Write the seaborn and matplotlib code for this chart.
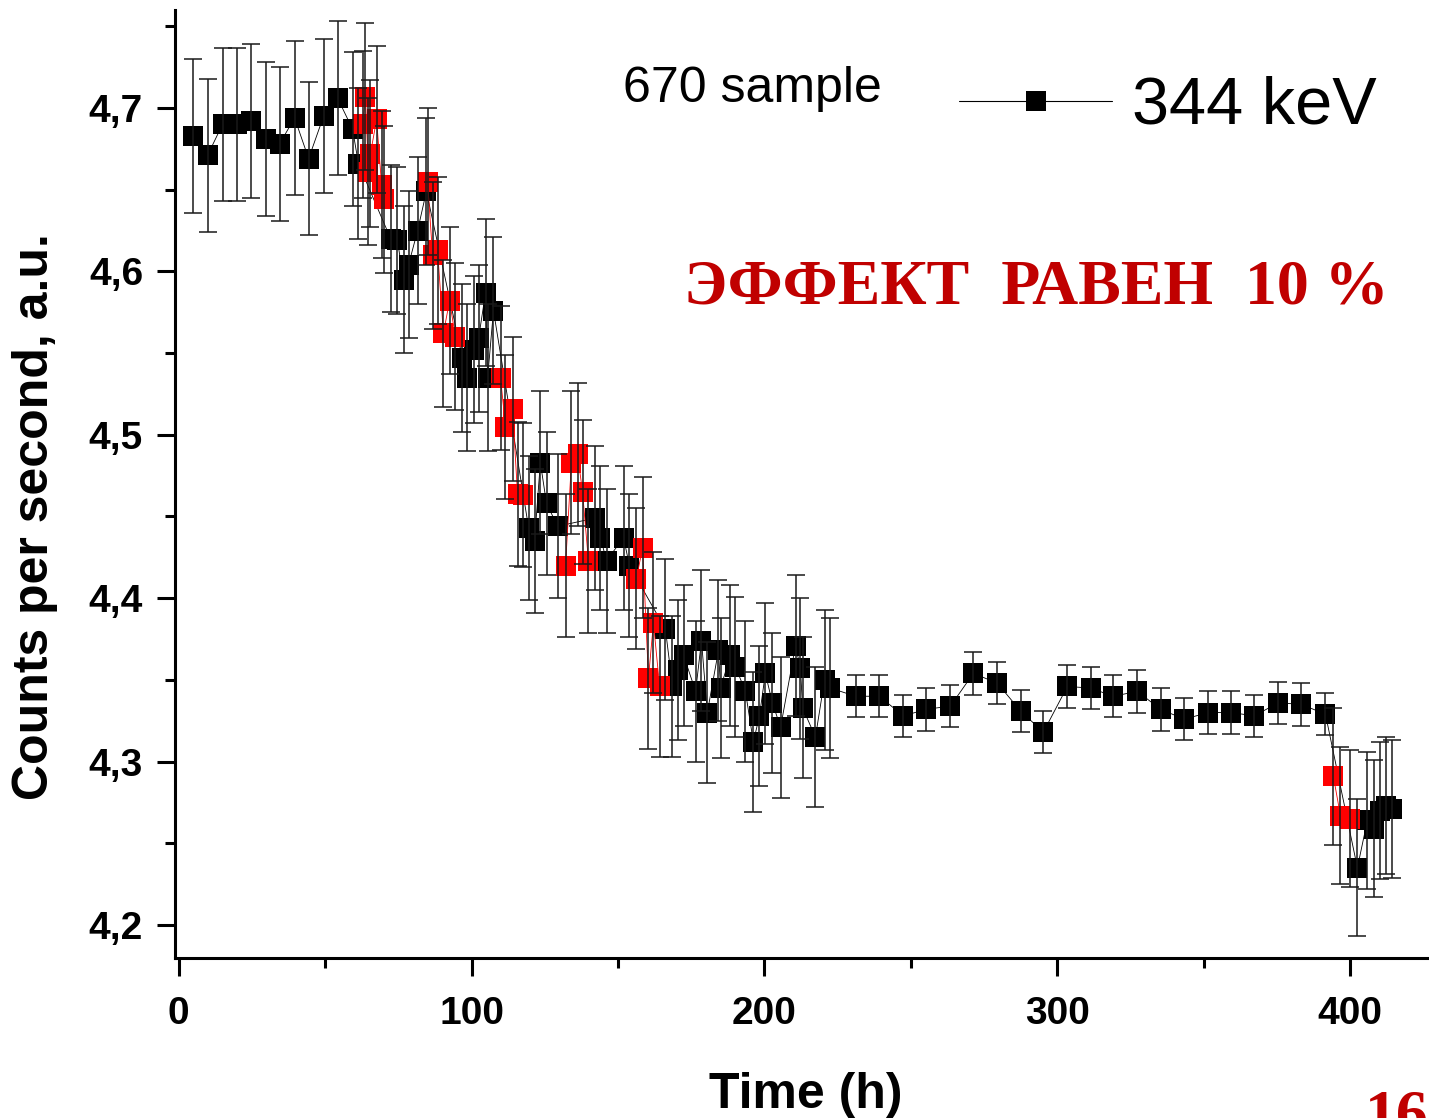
import pandas as pd
import seaborn as sns
import matplotlib.pyplot as plt
from matplotlib.lines import Line2D
from matplotlib.ticker import MultipleLocator, FuncFormatter

# black points (time, counts, error)
t_black = [4.8, 9.9, 15.0, 19.8, 24.6, 29.7, 34.5, 39.6, 44.4, 49.5, 54.3, 59.4, 61.4,
           72.4, 74.7, 76.8, 78.5, 81.6, 84.6, 96.9, 98.6, 100.7, 102.4, 104.8, 105.5, 107.5,
           119.5, 121.5, 123.5, 125.6, 129.4, 142.0, 144.0, 146.1, 151.9, 153.9,
           166.2, 168.6, 170.6, 172.4, 176.5, 178.5, 180.5, 184.3, 185.0, 188.4, 190.1,
           193.5, 196.2, 198.3, 200.3, 202.7, 205.5, 210.6, 212.3, 213.0, 217.4, 220.5, 222.5,
           231.1, 239.2, 247.4, 255.3, 263.5, 271.3, 279.5, 287.4, 295.2, 303.4, 311.3,
           319.1, 327.3, 335.2, 343.3, 351.5, 359.4, 367.2, 375.4, 383.3, 391.5,
           402.4, 405.8, 408.2, 410.2, 412.3, 414.3]
cps_black = [4.683, 4.671, 4.690, 4.690, 4.692, 4.681, 4.678, 4.694, 4.669, 4.695, 4.706, 4.687, 4.666,
             4.620, 4.619, 4.595, 4.604, 4.625, 4.649, 4.547, 4.535, 4.552, 4.559, 4.587, 4.535, 4.576,
             4.443, 4.435, 4.483, 4.458, 4.444, 4.449, 4.437, 4.423, 4.437, 4.420,
             4.381, 4.346, 4.356, 4.365, 4.343, 4.374, 4.330, 4.368, 4.345, 4.365, 4.358,
             4.343, 4.312, 4.328, 4.354, 4.336, 4.321, 4.371, 4.357, 4.333, 4.315, 4.350, 4.345,
             4.340, 4.340, 4.328, 4.332, 4.334, 4.354, 4.348, 4.331, 4.318, 4.346, 4.345,
             4.340, 4.343, 4.332, 4.326, 4.330, 4.330, 4.328, 4.336, 4.335, 4.329,
             4.235, 4.264, 4.259, 4.270, 4.273, 4.271]
err_black = [0.047, 0.047, 0.047, 0.047, 0.047, 0.047, 0.047, 0.047, 0.047, 0.047, 0.047, 0.047, 0.046,
             0.045, 0.045, 0.045, 0.045, 0.045, 0.045, 0.045, 0.045, 0.045, 0.045, 0.045, 0.045, 0.045,
             0.044, 0.044, 0.044, 0.044, 0.044, 0.044, 0.044, 0.044, 0.044, 0.044,
             0.043, 0.043, 0.043, 0.043, 0.043, 0.043, 0.043, 0.043, 0.043, 0.043, 0.043,
             0.043, 0.043, 0.043, 0.043, 0.043, 0.043, 0.043, 0.043, 0.043, 0.043, 0.043, 0.043,
             0.013, 0.013, 0.013, 0.013, 0.013, 0.013, 0.013, 0.013, 0.013, 0.013, 0.013,
             0.013, 0.013, 0.013, 0.013, 0.013, 0.013, 0.013, 0.013, 0.013, 0.013,
             0.042, 0.042, 0.042, 0.042, 0.042, 0.042]

# red points
t_red = [62.8, 63.8, 64.8, 65.5, 67.6, 69.3, 70.0,
         85.0, 86.7, 88.4, 90.4, 92.5, 94.5,
         109.9, 111.6, 114.0, 115.7, 117.7,
         132.1, 134.1, 136.2, 137.9, 139.9,
         156.3, 158.4, 160.4, 162.1, 164.2,
         394.2, 396.6, 400.0]
cps_red = [4.690, 4.707, 4.661, 4.672, 4.693, 4.653, 4.644,
           4.655, 4.610, 4.613, 4.562, 4.582, 4.560,
           4.535, 4.505, 4.516, 4.464, 4.463,
           4.420, 4.483, 4.488, 4.465, 4.423,
           4.412, 4.431, 4.351, 4.385, 4.346,
           4.291, 4.267, 4.265]
err_red = [0.045, 0.045, 0.045, 0.045, 0.045, 0.045, 0.045,
           0.045, 0.045, 0.045, 0.045, 0.045, 0.045,
           0.044, 0.044, 0.044, 0.044, 0.044,
           0.044, 0.044, 0.044, 0.044, 0.044,
           0.043, 0.043, 0.043, 0.043, 0.043,
           0.042, 0.042, 0.042]
run_red = [1, 1, 1, 1, 1, 1, 1, 2, 2, 2, 2, 2, 2, 3, 3, 3, 3, 3,
           4, 4, 4, 4, 4, 5, 5, 5, 5, 5, 6, 6, 6]

sns.set_style('ticks')
plt.rcParams['font.family'] = ['Liberation Sans', 'DejaVu Sans']
for key in ['text.color', 'axes.labelcolor', 'xtick.color', 'ytick.color', 'axes.edgecolor']:
    plt.rcParams[key] = 'black'

fig = plt.figure(figsize=(14.29, 11.18), dpi=100)
ax = fig.add_axes([0.1225, 0.1431, 0.877, 0.848])

dfb = pd.DataFrame({'t': t_black, 'cps': cps_black})
dfr = pd.DataFrame({'t': t_red, 'cps': cps_red, 'run': run_red})

sns.lineplot(data=dfb, x='t', y='cps', color='black', lw=0.6, marker='s',
             markersize=14.5, markeredgewidth=0, estimator=None, ax=ax, zorder=2)
sns.lineplot(data=dfr, x='t', y='cps', units='run', color='red', lw=0.6, marker='s',
             markersize=14.5, markeredgewidth=0, estimator=None, ax=ax, zorder=3)

# error bars on top
ax.errorbar(t_black, cps_black, yerr=err_black, fmt='none', ecolor='#1a1a1a',
            elinewidth=1.1, capsize=6.5, capthick=1.1, zorder=4)
ax.errorbar(t_red, cps_red, yerr=err_red, fmt='none', ecolor='#1a1a1a',
            elinewidth=1.1, capsize=6.5, capthick=1.1, zorder=4)

ax.set_xlim(-1.2, 426.6)
ax.set_ylim(4.1798, 4.760)
ax.xaxis.set_major_locator(MultipleLocator(100))
ax.xaxis.set_minor_locator(MultipleLocator(50))
ax.yaxis.set_major_locator(MultipleLocator(0.1))
ax.yaxis.set_minor_locator(MultipleLocator(0.05))
ax.yaxis.set_major_formatter(FuncFormatter(lambda v, p: f'{v:.1f}'.replace('.', ',')))

sns.despine(ax=ax)
for s in ['left', 'bottom']:
    ax.spines[s].set_linewidth(2.2)
ax.tick_params(which='major', length=13, width=2.2, labelsize=28)
ax.tick_params(which='minor', length=7, width=2.2)
ax.tick_params(axis='x', which='major', pad=14)
ax.tick_params(axis='y', which='major', pad=10)
for lab in ax.get_xticklabels() + ax.get_yticklabels():
    lab.set_fontweight('bold')
ax.set_xlabel('')
ax.set_ylabel('')

fig.text(35 / 1429, 1 - 517 / 1118, 'Counts per second, a.u.', rotation=90,
         ha='center', va='center', fontsize=36, fontweight='bold')
fig.text(806 / 1429, 1 - 1108 / 1118, 'Time (h)', ha='center', va='baseline',
         fontsize=36, fontweight='bold')

fig.text(752 / 1429, 1 - 89 / 1118, '670 sample', ha='center', va='center', fontsize=36)
fig.text(1036 / 1429, 1 - 288 / 1118, 'ЭФФЕКТ  РАВЕН  10 %', ha='center', va='center',
         fontsize=46, fontweight='bold', color='#c00000',
         family=['Liberation Serif', 'DejaVu Serif'])
fig.text(1365 / 1429, 1 - 1090 / 1118, '16', ha='left', va='top',
         fontsize=46, fontweight='bold', color='#c00000',
         family=['Liberation Serif', 'DejaVu Serif'])

handle = Line2D([], [], color='black', lw=0.8, marker='s', markersize=14.5, markeredgewidth=0)
ax.legend([handle], ['344 keV'], loc='upper right', frameon=False, fontsize=48,
          handlelength=2.3, handletextpad=0.3, borderpad=0, borderaxespad=0,
          bbox_to_anchor=(1377 / 1429, 1 - 76 / 1118), bbox_transform=fig.transFigure)

fig.savefig('out.png', dpi=100)
